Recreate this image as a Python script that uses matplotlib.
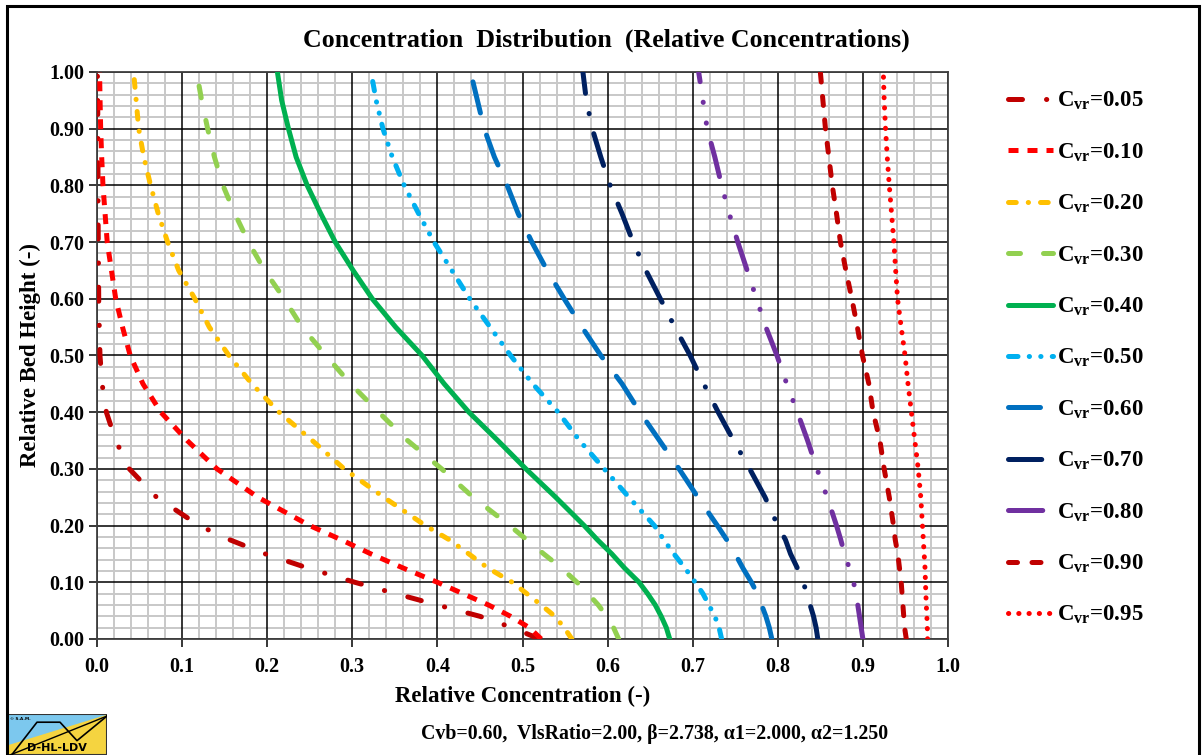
import matplotlib.pyplot as plt
from matplotlib.ticker import MultipleLocator, FormatStrFormatter
from matplotlib.patches import Rectangle, Polygon

plt.rcParams['font.family'] = 'Liberation Serif'
plt.rcParams['font.weight'] = 'bold'
plt.rcParams['axes.labelweight'] = 'bold'
plt.rcParams['mathtext.fontset'] = 'custom'
plt.rcParams['mathtext.rm'] = 'Liberation Serif:bold'
plt.rcParams['mathtext.it'] = 'Liberation Serif:bold'
plt.rcParams['mathtext.bf'] = 'Liberation Serif:bold'

# relative bed height (y) shared by all curves
heights = [0.0, 0.02, 0.04, 0.06, 0.08, 0.10, 0.125, 0.15, 0.175, 0.20, 0.25,
           0.30, 0.35, 0.40, 0.45, 0.50, 0.55, 0.60, 0.65, 0.70, 0.75,
           0.80, 0.85, 0.90, 0.95, 1.00]

# relative concentration (x) per curve
c_005 = [0.520, 0.488, 0.450, 0.400, 0.351, 0.303, 0.248, 0.198, 0.156, 0.120, 0.070,
         0.038, 0.022, 0.011, 0.006, 0.0035, 0.0027, 0.002, 0.0018, 0.0015, 0.0013,
         0.0012, 0.0011, 0.001, 0.0008, 0.0005]
c_010 = [0.522, 0.508, 0.486, 0.460, 0.430, 0.400, 0.360, 0.322, 0.287, 0.250, 0.189,
         0.141, 0.106, 0.075, 0.054, 0.039, 0.030, 0.022, 0.017, 0.012, 0.0095,
         0.007, 0.0055, 0.0043, 0.0036, 0.003]
c_020 = [0.558, 0.549, 0.538, 0.522, 0.505, 0.488, 0.4595, 0.437, 0.414, 0.386, 0.337,
         0.2905, 0.253, 0.214, 0.182, 0.155, 0.132, 0.115, 0.096, 0.083, 0.072,
         0.063, 0.055, 0.049, 0.046, 0.043]
c_030 = [0.613, 0.607, 0.599, 0.589, 0.577, 0.564, 0.546, 0.525, 0.505, 0.485, 0.442,
         0.405, 0.365, 0.331, 0.298, 0.269, 0.241, 0.220, 0.197, 0.178, 0.162,
         0.148, 0.138, 0.130, 0.123, 0.117]
c_040 = [0.673, 0.669, 0.663, 0.656, 0.647, 0.637, 0.620, 0.605, 0.588, 0.5725, 0.539,
         0.504, 0.471, 0.437, 0.408, 0.382, 0.351, 0.3235, 0.301, 0.280, 0.263,
         0.247, 0.234, 0.225, 0.217, 0.212]
c_050 = [0.734, 0.731, 0.726, 0.719, 0.712, 0.703, 0.691, 0.678, 0.666, 0.655, 0.625,
         0.596, 0.567, 0.542, 0.512, 0.486, 0.462, 0.438, 0.417, 0.396, 0.378,
         0.361, 0.347, 0.336, 0.328, 0.322]
c_060 = [0.793, 0.790, 0.786, 0.781, 0.776, 0.769, 0.759, 0.750, 0.740, 0.729, 0.706,
         0.684, 0.661, 0.638, 0.617, 0.592, 0.570, 0.549, 0.529, 0.511, 0.495,
         0.482, 0.467, 0.455, 0.447, 0.439]
c_070 = [0.847, 0.845, 0.842, 0.838, 0.834, 0.830, 0.823, 0.815, 0.809, 0.800, 0.785,
         0.767, 0.748, 0.730, 0.713, 0.697, 0.679, 0.662, 0.645, 0.630, 0.617,
         0.603, 0.592, 0.582, 0.575, 0.571]
c_080 = [0.900, 0.898, 0.896, 0.894, 0.892, 0.889, 0.884, 0.8785, 0.874, 0.869, 0.858,
         0.846, 0.835, 0.823, 0.8105, 0.799, 0.786, 0.775, 0.764, 0.753, 0.743,
         0.734, 0.726, 0.717, 0.712, 0.707]
c_090 = [0.951, 0.949, 0.948, 0.947, 0.946, 0.945, 0.943, 0.941, 0.938, 0.936, 0.931,
         0.925, 0.920, 0.912, 0.907, 0.8995, 0.8935, 0.887, 0.880, 0.8736, 0.869,
         0.864, 0.860, 0.856, 0.853, 0.850]
c_095 = [0.976, 0.9757, 0.9752, 0.9745, 0.974, 0.9735, 0.973, 0.972, 0.971, 0.970, 0.968,
         0.965, 0.961, 0.957, 0.953, 0.9495, 0.945, 0.9407, 0.9385, 0.9364, 0.9337,
         0.931, 0.9286, 0.9266, 0.925, 0.924]

series = [c_005, c_010, c_020, c_030, c_040, c_050, c_060, c_070, c_080, c_090, c_095]
cvr_labels = ['0.05', '0.10', '0.20', '0.30', '0.40', '0.50',
              '0.60', '0.70', '0.80', '0.90', '0.95']

colors = ['#C00000', '#FF0000', '#FFC000', '#92D050', '#00B050', '#00B0F0',
          '#0070C0', '#002060', '#7030A0', '#C00000', '#FF0000']
dashes = [
    (2.8, 4.8, 0.05, 4.8),
    (2.0, 1.8),
    (1.55, 2.4, 0.05, 2.4),
    (2.4, 4.6),
    None,
    (1.9, 2.25, 0.05, 2.25, 0.05, 2.25),
    (6.4, 4.6),
    (6.65, 4.1, 0.05, 4.1),
    (6.85, 4.15, 0.05, 4.15, 0.05, 4.15),
    (1.8, 2.9),
    (0.05, 2.0),
]
caps = ['round', 'butt', 'round', 'round', 'round', 'round',
        'round', 'round', 'round', 'round', 'round']

fig = plt.figure(figsize=(12.04, 7.55), dpi=100)
ax = fig.add_axes([97 / 1204, 1 - 639 / 755, 851 / 1204, 567 / 755])

handles = []
for xs, lab, col, ds, cap in zip(series, cvr_labels, colors, dashes, caps):
    line, = ax.plot(xs, heights, color=col, lw=3.6, solid_capstyle='round',
                    solid_joinstyle='round', label=r'C$_{\rm vr}$=' + lab, zorder=3)
    if ds is not None:
        line.set_dashes(ds)
        line.set_dash_capstyle(cap)
    handles.append(line)

ax.set_xlim(0, 1)
ax.set_ylim(0, 1)
ax.xaxis.set_major_locator(MultipleLocator(0.1))
ax.yaxis.set_major_locator(MultipleLocator(0.1))
ax.xaxis.set_minor_locator(MultipleLocator(0.02))
ax.yaxis.set_minor_locator(MultipleLocator(0.02))
ax.xaxis.set_major_formatter(FormatStrFormatter('%.1f'))
ax.yaxis.set_major_formatter(FormatStrFormatter('%.2f'))
ax.set_axisbelow(True)
ax.grid(which='minor', color='#c8c8c8', lw=1.4)
# major grid on top of the minor one
for v in ax.get_xticks():
    ax.axvline(v, color='black', lw=1.1, zorder=1)
for v in ax.get_yticks():
    ax.axhline(v, color='black', lw=1.1, zorder=1)
ax.tick_params(which='major', direction='out', length=6, width=1.1,
               labelsize=14.5, pad=3)
ax.tick_params(axis='x', pad=7)
ax.tick_params(which='minor', length=0)
for s in ax.spines.values():
    s.set_color('#404040')
    s.set_linewidth(1.3)

ax.set_xlabel('Relative Concentration (-)', fontsize=16.5, labelpad=6)
ax.set_ylabel('Relative Bed Height (-)', fontsize=16.5, labelpad=6)

fig.text(606 / 1204, 1 - 47 / 755,
         'Concentration  Distribution  (Relative Concentrations)',
         ha='center', va='baseline', fontsize=18.6)
fig.text(655 / 1204, 1 - 739 / 755,
         'Cvb=0.60,  VlsRatio=2.00, \u03b2=2.738, \u03b11=2.000, \u03b12=1.250',
         ha='center', va='baseline', fontsize=14.3)

ax.legend(handles=handles, loc='upper left',
          bbox_to_anchor=(1008 / 1204, 1 - 90 / 755),
          bbox_transform=fig.transFigure, frameon=False, fontsize=16.5,
          handlelength=1.97, handletextpad=0.17, labelspacing=1.27,
          borderpad=0, borderaxespad=0)

# outer frame
fig.patches.append(Rectangle((7 / 1204, -0.05), 1192 / 1204, 1.05 - 6 / 755,
                             transform=fig.transFigure, fill=False,
                             ec='black', lw=2.2))

# small logo at bottom left
lax = fig.add_axes([7 / 1204, 0, 100 / 1204, 41 / 755])
lax.set_xlim(0, 1)
lax.set_ylim(0, 1)
lax.axis('off')
lax.add_patch(Polygon([(0, 0), (1, 0), (1, 1), (0, 0.25)], color='#F5D440'))
lax.add_patch(Polygon([(0, 0.25), (1, 1), (0, 1)], color='#7CC8EE'))
lax.plot([0.03, 1.0], [0.0, 0.95], color='black', lw=1)
lax.plot([0.03, 0.3, 0.53, 0.7, 1.0], [-0.05, 0.8, 0.8, 0.35, 0.95],
         color='black', lw=1.2)
lax.text(0.5, 0.05, 'D-HL-LDV', ha='center', va='bottom', fontsize=8,
         family='DejaVu Sans', weight='bold')
lax.text(0.03, 0.93, '\u00a9 S.A.M.', ha='left', va='top', fontsize=3,
         family='DejaVu Sans')
lax.add_patch(Rectangle((0, 0), 1, 1, fill=False, ec='#333333', lw=1.5))

fig.savefig('out.png', dpi=100)
